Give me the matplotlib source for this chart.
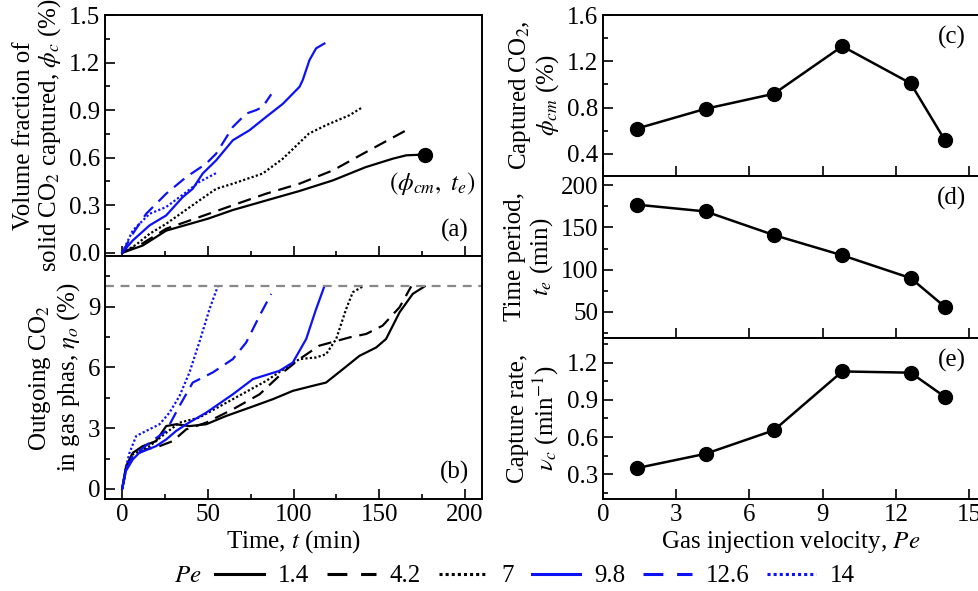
import numpy as np
import matplotlib
matplotlib.use("Agg")
import matplotlib.pyplot as plt
from matplotlib.ticker import MultipleLocator
from matplotlib.lines import Line2D

plt.rcParams['font.family'] = ['Liberation Serif', 'DejaVu Serif']
plt.rcParams['mathtext.fontset'] = 'stix'
plt.rcParams['font.size'] = 18

# ---- data ----
pe_labels = ['1.4', '4.2', '7', '9.8', '12.6', '14']
pe = [1.4, 4.2, 7, 9.8, 12.6, 14]
phi_cm = [0.62, 0.79, 0.92, 1.33, 1.01, 0.52]
t_e = [177, 169, 141, 117, 90, 56]
nu_c = [0.35, 0.465, 0.655, 1.13, 1.12, 0.925]

# panel (a): captured volume fraction vs time
t_a_14 = [0, 12, 25.7, 50, 64.6, 84, 103.5, 123, 142, 158, 165.8, 176.5]
phi_14 = [0, 0.046, 0.14, 0.215, 0.27, 0.33, 0.39, 0.457, 0.54, 0.594, 0.615, 0.62]
t_a_42 = [0, 12, 25.7, 45, 64.6, 84, 103.5, 123, 142.4, 168.7]
phi_42 = [0, 0.06, 0.152, 0.225, 0.30, 0.373, 0.436, 0.52, 0.636, 0.79]
t_a_7 = [0, 8, 16, 25.7, 45, 54.9, 64.6, 82, 93.8, 109, 119, 132.7, 140.5]
phi_7 = [0, 0.05, 0.12, 0.183, 0.33, 0.404, 0.436, 0.5, 0.594, 0.752, 0.805, 0.868, 0.92]
t_a_98 = [0, 6.2, 16, 25.7, 35.4, 41.2, 47, 54.9, 64.6, 74.3, 84, 93.8, 103.5, 105.4, 109.3, 113.2, 118]
phi_98 = [0, 0.078, 0.173, 0.236, 0.352, 0.404, 0.5, 0.584, 0.71, 0.773, 0.857, 0.94, 1.047, 1.09, 1.215, 1.29, 1.32]
t_a_126 = [0, 6.2, 14, 25.7, 37.4, 49, 54.9, 64.6, 72.4, 78.2, 82, 87]
phi_126 = [0, 0.12, 0.246, 0.373, 0.478, 0.562, 0.626, 0.794, 0.878, 0.9, 0.92, 1.0]
t_a_140 = [0, 6.2, 16, 25.7, 37.4, 45, 54.9]
phi_140 = [0, 0.141, 0.246, 0.289, 0.383, 0.447, 0.503]

# panel (b): outgoing CO2 vs time
t_b_14 = [0, 2.3, 6.2, 12, 19.8, 25.7, 31.5, 39.3, 49, 60.7, 74.3, 88, 99.6, 111.3, 119, 128.8, 138.5, 148.2, 154, 161.9, 169.6, 176.5]
eta_14 = [0, 1.12, 1.78, 2.11, 2.36, 3.1, 3.19, 3.1, 3.19, 3.6, 4.01, 4.43, 4.84, 5.09, 5.25, 5.91, 6.57, 6.98, 7.4, 8.72, 9.63, 10.0]
t_b_42 = [0, 2.3, 6.2, 14, 21.8, 29.6, 37.4, 49, 64.6, 80.2, 93.8, 103.5, 115, 132.7, 142.4, 152, 161.9, 168.7]
eta_42 = [0, 0.96, 1.62, 1.95, 2.11, 2.36, 2.94, 3.27, 3.93, 4.67, 5.75, 6.41, 7.07, 7.48, 7.65, 8.06, 8.97, 10.0]
t_b_7 = [0, 2.3, 6.2, 16, 25.7, 33.5, 45, 64.6, 84, 95.7, 103.5, 113.2, 119, 124.9, 130.7, 134.6, 140.5]
eta_7 = [0, 1.0, 1.7, 2.11, 2.77, 3.27, 3.52, 4.43, 5.33, 5.99, 6.41, 6.49, 6.65, 7.4, 8.88, 9.71, 10.0]
t_b_98 = [0, 2.3, 6.2, 10, 19.8, 25.7, 31.5, 37.4, 49, 64.6, 76.3, 91.8, 99.6, 107.4, 113.2, 118]
eta_98 = [0, 0.9, 1.45, 1.78, 2.11, 2.44, 2.86, 3.19, 3.76, 4.67, 5.42, 5.83, 6.24, 7.4, 8.88, 10.0]
t_b_126 = [0, 2.3, 6.2, 16, 25.7, 33.5, 41.2, 52.9, 64.6, 72.4, 80.2, 87]
eta_126 = [0, 0.95, 1.62, 2.28, 2.86, 4.1, 5.25, 5.75, 6.41, 7.23, 8.55, 9.63]
t_b_140 = [0, 2.0, 4.3, 8.2, 14, 21.8, 27.6, 33.5, 39.3, 45, 51, 55.8]
eta_140 = [0, 1.0, 1.78, 2.61, 2.86, 3.19, 3.76, 4.59, 5.75, 7.23, 8.88, 10.0]

t_a = [t_a_14, t_a_42, t_a_7, t_a_98, t_a_126, t_a_140]
phi_c = [phi_14, phi_42, phi_7, phi_98, phi_126, phi_140]
t_b = [t_b_14, t_b_42, t_b_7, t_b_98, t_b_126, t_b_140]
eta_o = [eta_14, eta_42, eta_7, eta_98, eta_126, eta_140]

blue = '#0c12f5'
colors = ['black', 'black', 'black', blue, blue, blue]
styles = ['-', (0, (6, 3.5)), (0, (1, 1)), '-', (0, (6, 3.5)), (0, (1, 1))]
lw = 1.6

W, H = 979, 591
fig = plt.figure(figsize=(W / 100, H / 100), dpi=100)


def px_axes(x0, x1, top, bottom):
    return fig.add_axes([x0 / W, (H - bottom) / H, (x1 - x0) / W, (bottom - top) / H])


def style_axes(ax):
    ax.tick_params(which='both', direction='in', top=False, right=False, labelsize=18)
    ax.tick_params(which='major', length=7, width=1.2)
    ax.tick_params(which='minor', length=3.5, width=1.2)
    for s in ax.spines.values():
        s.set_linewidth(1.4)


ax_a = px_axes(105, 482, 15, 256)
ax_b = px_axes(105, 482, 256, 499)
ax_c = px_axes(603, 979, 15, 176)
ax_d = px_axes(603, 979, 176, 338)
ax_e = px_axes(603, 979, 338, 499)

# (a)
for i in range(6):
    ax_a.plot(t_a[i], phi_c[i], color=colors[i], linestyle=styles[i], lw=lw)
ax_a.plot(t_a_14[-1], phi_14[-1], 'o', color='black', ms=10)
ax_a.text(181, 0.44, r'$(\phi_{cm},\ t_e)$', ha='center', va='center', fontsize=18)
ax_a.set_xlim(-10, 210)
ax_a.set_ylim(-0.02, 1.5)
ax_a.xaxis.set_major_locator(MultipleLocator(50))
ax_a.xaxis.set_minor_locator(MultipleLocator(25))
ax_a.yaxis.set_major_locator(MultipleLocator(0.3))
ax_a.yaxis.set_minor_locator(MultipleLocator(0.15))
ax_a.yaxis.set_major_formatter(plt.FormatStrFormatter('%.1f'))
ax_a.set_xticklabels([])
ax_a.set_ylabel('Volume fraction of\nsolid CO$_2$ captured, $\\phi_c$ (%)', fontsize=18, linespacing=1.1)
ax_a.text(0.965, 0.06, '(a)', transform=ax_a.transAxes, ha='right', va='bottom', fontsize=18)
style_axes(ax_a)

# (b)
for i in range(6):
    ax_b.plot(t_b[i], eta_o[i], color=colors[i], linestyle=styles[i], lw=lw)
ax_b.axhline(10, color='#888888', linestyle=(0, (4, 3)), lw=1.6)
ax_b.set_xlim(-10, 210)
ax_b.set_ylim(-0.5, 11.5)
ax_b.xaxis.set_major_locator(MultipleLocator(50))
ax_b.xaxis.set_minor_locator(MultipleLocator(25))
ax_b.yaxis.set_major_locator(MultipleLocator(3))
ax_b.yaxis.set_minor_locator(MultipleLocator(1.5))
ax_b.set_xlabel('Time, $t$ (min)', fontsize=18, labelpad=2)
ax_b.set_ylabel('Outgoing CO$_2$\nin gas phas, $\\eta_o$ (%)', fontsize=18, linespacing=1.1)
ax_b.text(0.965, 0.06, '(b)', transform=ax_b.transAxes, ha='right', va='bottom', fontsize=18)
style_axes(ax_b)

# right column
right = [(ax_c, phi_cm, (0.21, 1.6), 0.4, 0.2, '%.1f', 'Captured CO$_2$,\n$\\phi_{cm}$ (%)', '(c)'),
         (ax_d, t_e, (19, 211), 50, 25, '%d', 'Time period,\n$t_e$ (min)', '(d)'),
         (ax_e, nu_c, (0.1, 1.4), 0.3, 0.15, '%.1f', 'Capture rate,\n$\\nu_c$ (min$^{\\mathrm{-1}}$)', '(e)')]
for ax, vals, ylim, maj, mnr, fmt, lab, tag in right:
    ax.plot(pe, vals, '-o', color='black', lw=1.8, ms=10)
    ax.set_xlim(0, 15.4)
    ax.set_ylim(*ylim)
    ax.xaxis.set_major_locator(MultipleLocator(3))
    ax.yaxis.set_major_locator(MultipleLocator(maj))
    ax.yaxis.set_minor_locator(MultipleLocator(mnr))
    ax.yaxis.set_major_formatter(plt.FormatStrFormatter(fmt))
    ax.set_ylabel(lab, fontsize=18, linespacing=1.1)
    ax.text(0.965, 0.93, tag, transform=ax.transAxes, ha='right', va='top', fontsize=18)
    style_axes(ax)
    if ax is not ax_e:
        ax.set_xticklabels([])

ax_c.set_yticks([0.4, 0.8, 1.2, 1.6])
ax_d.set_yticks([50, 100, 150, 200])
ax_e.set_yticks([0.3, 0.6, 0.9, 1.2])
ax_e.set_xlabel('Gas injection velocity, $Pe$', fontsize=18, labelpad=2)

# shared legend
leg_styles = ['-', (0, (6.5, 4.5)), (0, (1, 1)), '-', (0, (6.5, 4.5)), (0, (1, 1))]
handles = [Line2D([], [], color=colors[i], linestyle=leg_styles[i], lw=2.2) for i in range(6)]
fig.text(174 / W, 1 - 576 / H, '$Pe$', ha='left', va='center', fontsize=18)
fig.legend(handles, pe_labels, loc='center left', bbox_to_anchor=(215 / W, 1 - 576 / H),
           ncol=6, frameon=False, fontsize=18, handlelength=1.95, handletextpad=0.55,
           columnspacing=0.72, borderaxespad=0, borderpad=0)

fig.savefig('out.png', dpi=100)
